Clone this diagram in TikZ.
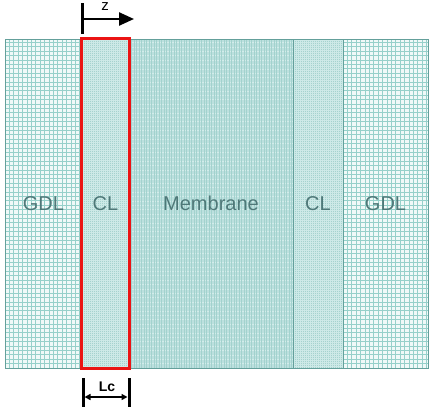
\documentclass[tikz,border=0pt]{standalone}
\usepackage{fontspec}
\setmainfont{Liberation Sans}
\usetikzlibrary{arrows.meta}
\definecolor{gridc}{RGB}{150,208,202}
\definecolor{bgc}{RGB}{240,249,248}
\definecolor{memc}{RGB}{188,224,222}
\definecolor{memline}{RGB}{162,210,206}
\definecolor{memh}{RGB}{210,236,234}
\definecolor{clc}{RGB}{205,233,231}
\definecolor{cldot}{RGB}{165,210,206}
\definecolor{txtc}{RGB}{78,120,120}
\definecolor{bordc}{RGB}{100,160,155}
\definecolor{redc}{RGB}{235,20,20}
\tikzset{
  layer/.style={draw=bordc, line width=0.8pt, inner sep=0pt, text=txtc,
    font=\fontsize{20}{24}\selectfont, minimum height=329pt},
  gdltex/.style={layer, fill=bgc, path picture={
    \foreach \i in {0,4.4,...,420}{
      \draw[gridc, line width=0.8pt] ([xshift=\i pt]path picture bounding box.south west) -- ([xshift=\i pt]path picture bounding box.north west);}
    \foreach \j in {0,4.4,...,330}{
      \draw[gridc, line width=0.8pt] ([yshift=\j pt]path picture bounding box.south west) -- ([yshift=\j pt]path picture bounding box.south east);}
  }},
  memtex/.style={layer, fill=memc, path picture={
    \foreach \j in {0,4.4,...,330}{
      \draw[memh, line width=0.6pt] ([yshift=\j pt]path picture bounding box.south west) -- ([yshift=\j pt]path picture bounding box.south east);}
    \foreach \i in {0,2.5,...,170}{
      \draw[memline, line width=0.6pt] ([xshift=\i pt]path picture bounding box.south west) -- ([xshift=\i pt]path picture bounding box.north west);}
  }},
  cltex/.style={layer, fill=clc, path picture={
    \foreach \i in {0,2,...,52}{
      \draw[cldot, line width=0.4pt, dash pattern=on 1pt off 1pt] ([xshift=\i pt]path picture bounding box.south west) -- ([xshift=\i pt]path picture bounding box.north west);}
  }},
  dimline/.style={black, line width=3pt},
}
\begin{document}
\begin{tikzpicture}[x=1pt,y=-1pt]
\useasboundingbox (0,0) rectangle (433,407);
\node[gdltex, minimum width=77pt] (gdl1) at (43.5,203.5) {GDL};
\node[cltex, minimum width=47pt] (cl1) at (105.5,203.5) {CL};
\node[memtex, minimum width=164pt] (mem) at (211,203.5) {Membrane};
\node[cltex, minimum width=50pt] (cl2) at (318,203.5) {CL};
\node[gdltex, minimum width=85pt] (gdl2) at (385.5,203.5) {GDL};
\draw[redc, line width=3.2pt] (cl1.north west) rectangle (cl1.south east);
% z arrow
\coordinate (zt) at (82,3);
\coordinate (zb) at (82,34);
\coordinate (zs) at (83,19);
\coordinate (ze) at (134,19);
\draw[dimline] (zt) -- (zb);
\draw[black, line width=2.4pt, -{Triangle[length=15pt,width=13pt]}] (zs) -- (ze);
\node[font=\fontsize{15}{17}\selectfont] (zlab) at (105,7) {z};
% Lc dimension
\coordinate (la) at (83,378);
\coordinate (lb) at (83,407);
\coordinate (ra) at (129,378);
\coordinate (rb) at (129,407);
\draw[dimline] (la) -- (lb);
\draw[dimline] (ra) -- (rb);
\draw[black, line width=1.8pt, {Triangle[length=6pt,width=6pt]}-{Triangle[length=6pt,width=6pt]}] (84.5,397) -- (127.5,397);
\node[font=\bfseries\fontsize{14}{16}\selectfont] (lc) at (107,387) {Lc};
\end{tikzpicture}
\end{document}
